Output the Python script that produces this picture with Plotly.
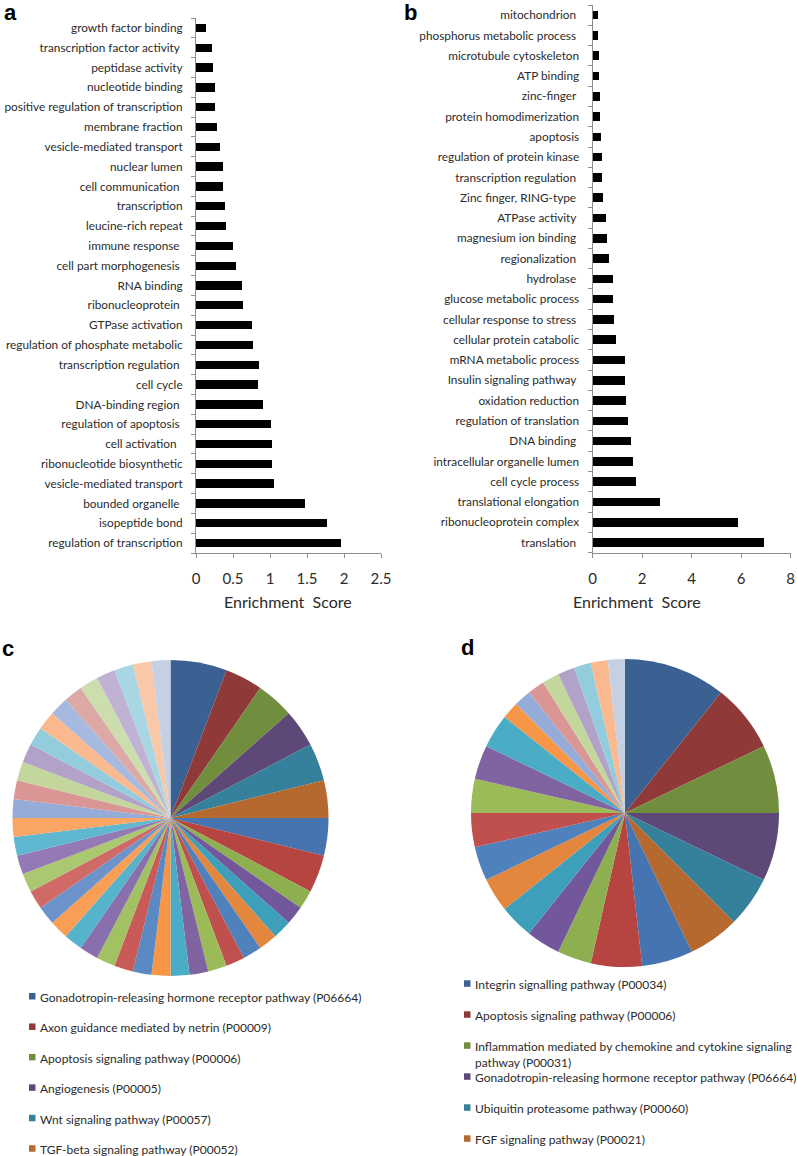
import plotly.graph_objects as go

W, H = 797, 1156
FONT = "Lato"
TXT = "#2b2b2b"
AX = "#8c8c8c"

# ---------------- data ----------------
a_terms = ["growth factor binding", "transcription factor activity\u00a0", "peptidase activity",
           "nucleotide binding", "positive regulation of transcription", "membrane fraction",
           "vesicle-mediated transport", "nuclear lumen", "cell communication\u00a0", "transcription",
           "leucine-rich repeat", "immune response\u00a0", "cell part morphogenesis\u00a0", "RNA binding",
           "ribonucleoprotein\u00a0", "GTPase activation", "regulation of phosphate metabolic",
           "transcription regulation\u00a0", "cell cycle", "DNA-binding region\u00a0",
           "regulation of apoptosis\u00a0", "cell activation\u00a0\u00a0", "ribonucleotide biosynthetic",
           "vesicle-mediated transport", "bounded organelle\u00a0", "isopeptide bond",
           "regulation of transcription"]
a_scores = [0.13, 0.22, 0.23, 0.25, 0.25, 0.28, 0.33, 0.36, 0.36, 0.39, 0.41, 0.50, 0.54,
            0.62, 0.64, 0.76, 0.77, 0.85, 0.84, 0.91, 1.01, 1.03, 1.03, 1.06, 1.47, 1.77, 1.96]

b_terms = ["mitochondrion\u00a0", "phosphorus metabolic process\u00a0", "microtubule cytoskeleton",
           "ATP binding", "zinc-finger\u00a0", "protein homodimerization", "apoptosis",
           "regulation of protein kinase", "transcription regulation\u00a0", "Zinc finger, RING-type\u00a0",
           "ATPase activity\u00a0", "magnesium ion binding\u00a0", "regionalization\u00a0", "hydrolase\u00a0",
           "glucose metabolic process", "cellular response to stress\u00a0", "cellular protein catabolic",
           "mRNA metabolic process", "Insulin signaling pathway\u00a0", "oxidation reduction",
           "regulation of translation", "DNA binding\u00a0", "intracellular organelle lumen",
           "cell cycle process", "translational elongation", "ribonucleoprotein complex",
           "translation\u00a0"]
b_scores = [0.19, 0.19, 0.24, 0.26, 0.27, 0.27, 0.34, 0.36, 0.36, 0.42, 0.54, 0.56, 0.65, 0.79,
            0.79, 0.85, 0.93, 1.28, 1.31, 1.32, 1.43, 1.52, 1.61, 1.74, 2.72, 5.86, 6.91]

a_ticks = [0, 0.5, 1, 1.5, 2, 2.5]
b_ticks = [0, 2, 4, 6, 8]

c_values = [3, 2, 2, 2, 2, 2, 2, 2,
            1, 1, 1, 1, 1, 1, 1, 1, 1, 1, 1, 1, 1, 1, 1, 1, 1, 1, 1, 1, 1, 1,
            1, 1, 1, 1, 1, 1, 1, 1, 1, 1, 1, 1, 1]
d_values = [6, 4, 4, 4, 3, 3, 3, 3, 2, 2, 2, 2, 2, 2, 2, 2, 2, 1, 1, 1, 1, 1, 1, 1, 1]

c_legend = ["Gonadotropin-releasing hormone receptor pathway (P06664)",
            "Axon guidance mediated by netrin (P00009)",
            "Apoptosis signaling pathway (P00006)",
            "Angiogenesis (P00005)",
            "Wnt signaling pathway (P00057)",
            "TGF-beta signaling pathway (P00052)"]
d_legend = ["Integrin signalling pathway (P00034)",
            "Apoptosis signaling pathway (P00006)",
            "Inflammation mediated by chemokine and cytokine signaling<br>pathway (P00031)",
            "Gonadotropin-releasing hormone receptor pathway (P06664)",
            "Ubiquitin proteasome pathway (P00060)",
            "FGF signaling pathway (P00021)"]

# ---------------- colours ----------------
dark6 = ["#3A6192", "#8F3A38", "#718D3E", "#5D4878", "#35809A", "#B5692F"]
midA = ["#4674B0", "#B64542", "#8EAF50", "#72589A", "#3E9FBA", "#E2873D"]
midB = ["#4F81BD", "#C0504D", "#9BBB59", "#8064A2", "#4BACC6", "#F79646"]
midC = ["#5A89C4", "#C85B58", "#A2C163", "#8A6FAD", "#55B3CC", "#F89F55"]
midD = ["#6C94CB", "#D06A66", "#AAC86F", "#937AB5", "#60B8D0", "#F9A563"]
light1 = ["#95ACD8", "#D99694", "#C3D69B", "#B3A2C7", "#93CDDD", "#FAB98E"]
light2 = ["#A6B9DF", "#DDA9A6", "#CCDDAE", "#BFB2D2", "#A8D6E3", "#F8C8A8"]
last = ["#C5D0E3"]
c_colors = dark6 + midA + midB + midC + midD + light1 + light2 + last
d_colors = dark6 + midA + midB + light1 + last


def px(x):
    return x / W


def py(y):
    return 1 - y / H


fig = go.Figure()

a_idx = list(range(len(a_terms)))
b_idx = list(range(len(b_terms)))

fig.add_trace(go.Bar(x=a_scores, y=a_idx, orientation="h", width=0.42,
                     marker=dict(color="black", line=dict(width=0)),
                     xaxis="x", yaxis="y", showlegend=False))
fig.add_trace(go.Bar(x=b_scores, y=b_idx, orientation="h", width=0.42,
                     marker=dict(color="black", line=dict(width=0)),
                     xaxis="x2", yaxis="y2", showlegend=False))

fig.add_trace(go.Pie(values=c_values, sort=False, direction="clockwise", rotation=0,
                     marker=dict(colors=c_colors, line=dict(width=0)),
                     textinfo="none", showlegend=False,
                     domain=dict(x=[px(170.5 - 158), px(170.5 + 158)],
                                 y=[py(818 + 158), py(818 - 158)])))
fig.add_trace(go.Pie(values=d_values, sort=False, direction="clockwise", rotation=0,
                     marker=dict(colors=d_colors, line=dict(width=0)),
                     textinfo="none", showlegend=False,
                     domain=dict(x=[px(625 - 154), px(625 + 154)],
                                 y=[py(813 + 154), py(813 - 154)])))


def xax(domain, anchor, rng, ticks):
    return dict(domain=domain, anchor=anchor, range=rng, tickvals=ticks,
                ticks="outside", ticklen=4, tickcolor=AX, tickwidth=1,
                showline=True, linecolor=AX, linewidth=1, showgrid=False, zeroline=False,
                tickfont=dict(family=FONT, size=15, color=TXT), ticklabelstandoff=8,
                automargin=False, fixedrange=True)


def yax(domain, anchor, n, labels):
    return dict(domain=domain, anchor=anchor, range=[n - 0.5, -0.5],
                tickvals=list(range(n)), ticktext=labels, ticks="",
                showline=True, linecolor=AX, linewidth=1, showgrid=False, zeroline=False,
                tickfont=dict(family=FONT, size=11.8, color=TXT), ticklabelstandoff=10,
                minor=dict(tickvals=[i - 0.5 for i in range(n + 1)], ticks="outside",
                           ticklen=4, tickcolor=AX, tickwidth=1, showgrid=False),
                automargin=False, fixedrange=True)


annotations = []
shapes = []

# axis titles and panel letters
annotations.append(dict(text="Enrichment\u00a0 Score", x=px(288), y=py(601), xref="paper", yref="paper",
                        showarrow=False, font=dict(family=FONT, size=16, color=TXT)))
annotations.append(dict(text="Enrichment\u00a0 Score", x=px(703), y=py(601), xref="paper", yref="paper",
                        showarrow=False, font=dict(family=FONT, size=16, color=TXT)))
for letter, lx, ly in [("a", 2, 12), ("b", 402, 12), ("c", 0, 648), ("d", 459, 647)]:
    annotations.append(dict(text="<b>%s</b>" % letter, x=px(lx), y=py(ly), xref="paper", yref="paper",
                            xanchor="left", yanchor="middle", showarrow=False,
                            font=dict(family="Liberation Sans", size=22, color="black")))

# pie legends (decoration)
LINE = 15


def legend(names, colors, x_sq, x_txt, y0, step):
    for i, name in enumerate(names):
        yc = y0 + step * i
        shapes.append(dict(type="rect", xref="paper", yref="paper",
                           x0=px(x_sq), x1=px(x_sq + 6.5), y0=py(yc + 3.5), y1=py(yc - 3),
                           fillcolor=colors[i], line=dict(width=0)))
        annotations.append(dict(text=name, x=px(x_txt), y=py(yc - LINE / 2 - 0.5), xref="paper", yref="paper",
                                xanchor="left", yanchor="top", align="left", showarrow=False,
                                font=dict(family=FONT, size=12, color=TXT)))


legend(c_legend, dark6, 29, 38, 996, 30.45)
legend(d_legend, dark6, 464, 473, 983.3, 31.0)

fig.update_layout(
    width=W, height=H, margin=dict(l=0, r=0, t=0, b=0, autoexpand=False),
    paper_bgcolor="white", plot_bgcolor="white",
    xaxis=xax([px(196), px(381)], "y", [0, 2.5], a_ticks),
    yaxis=yax([py(553), py(18)], "x", len(a_terms), a_terms),
    xaxis2=xax([px(592.5), px(790.7)], "y2", [0, 8], b_ticks),
    yaxis2=yax([py(552.7), py(5)], "x2", len(b_terms), b_terms),
    annotations=annotations, shapes=shapes, bargap=0,
)

fig.write_html("out.html", config={"displayModeBar": False},
               post_script="document.body.style.margin='0';document.body.style.padding='0';")
